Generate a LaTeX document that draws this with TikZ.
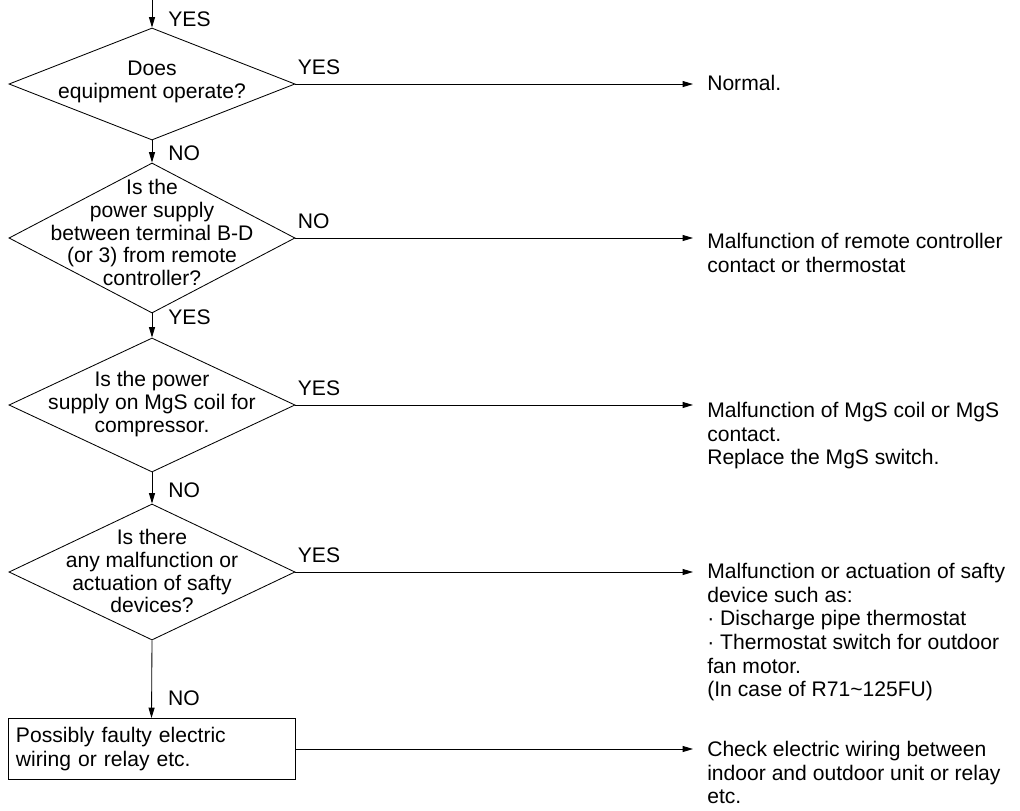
\documentclass[tikz,border=0pt]{standalone}
\usepackage{fontspec}
\setmainfont{Liberation Sans}
\usetikzlibrary{shapes.geometric,arrows.meta}

\begin{document}
\begin{tikzpicture}[
  x=0.025cm, y=-0.025cm,
  decision/.style={diamond, draw=black, line width=0.6pt, inner sep=0pt, minimum width=7.15cm},
  qtext/.style={anchor=north, inner sep=0pt, align=center, font=\fontsize{15}{16.2}\selectfont},
  result/.style={anchor=north west, inner xsep=0.35cm, inner ysep=0pt, align=left, font=\fontsize{15}{16.8}\selectfont},
  actbox/.style={rectangle, draw=black, line width=0.6pt, text width=6.775cm, inner xsep=0.2cm, minimum height=1.525cm, align=left, font=\fontsize{15}{17.6}\selectfont},
  flow/.style={line width=0.6pt, -{Triangle[length=2.6mm, width=1.5mm]}},
  downlbl/.style={anchor=west, inner sep=0pt, xshift=0.4cm, font=\fontsize{15}{17}\selectfont},
  sidelbl/.style={anchor=south west, inner sep=0pt, pos=0, xshift=0.05cm, yshift=0.22cm, font=\fontsize{15}{17}\selectfont}
]
  \useasboundingbox (0,0) rectangle (1020,810);

  % Entrada
  \coordinate (start) at (152,0);

  % Rombos de decision
  \node[decision, minimum height=2.8cm]  (d1) at (152,84) {};
  \node[decision, minimum height=3.75cm] (d2) at (152,238) {};
  \node[decision, minimum height=3.35cm] (d3) at (152,405) {};
  \node[decision, minimum height=3.4cm]  (d4) at (152,572) {};
  \node[actbox] (box) at (151.5,749) {Possibly faulty electric\\wiring or relay etc.};

  % Textos de las preguntas
  \node[qtext] (q1) at (152,61)  {Does\\equipment operate?};
  \node[qtext] (q2) at (152,179) {Is the\\power supply\\between terminal B-D\\(or 3) from remote\\controller?};
  \node[qtext] (q3) at (152,371) {Is the power\\supply on MgS coil for\\compressor.};
  \node[qtext] (q4) at (152,529) {Is there\\any malfunction or\\actuation of safty\\devices?};

  % Resultados
  \node[result] (r1) at (693,75)  {Normal.};
  \node[result] (r2) at (693,233) {Malfunction of remote controller\\contact or thermostat};
  \node[result] (r3) at (693,402) {Malfunction of MgS coil or MgS\\contact.\\Replace the MgS switch.};
  \node[result] (r4) at (693,563) {Malfunction or actuation of safty\\device such as:\\· Discharge pipe thermostat\\· Thermostat switch for outdoor\\fan motor.\\(In case of R71\textasciitilde125FU)};
  \node[result] (r5) at (693,741) {Check electric wiring between\\indoor and outdoor unit or relay\\etc.};

  % Flechas verticales
  \draw[flow] (start) -- node[downlbl, pos=0.68] (l0) {YES} (d1.north);
  \draw[flow] (d1.south) -- node[downlbl, pos=0.6] (l1) {NO} (d2.north);
  \draw[flow] (d2.south) -- node[downlbl, pos=0.16] (l2) {YES} (d3.north);
  \draw[flow] (d3.south) -- node[downlbl, pos=0.58] (l3) {NO} (d4.north);
  \draw[flow] (d4.south) -- node[downlbl, pos=0.75] (l4) {NO} (box.north);

  % Flechas horizontales
  \draw[flow] (d1.east) -- node[sidelbl] (s1) {YES} (d1.east -| r1.west);
  \draw[flow] (d2.east) -- node[sidelbl] (s2) {NO} (d2.east -| r2.west);
  \draw[flow] (d3.east) -- node[sidelbl] (s3) {YES} (d3.east -| r3.west);
  \draw[flow] (d4.east) -- node[sidelbl] (s4) {YES} (d4.east -| r4.west);
  \draw[flow] (box.east) -- (box.east -| r5.west);
\end{tikzpicture}
\end{document}
